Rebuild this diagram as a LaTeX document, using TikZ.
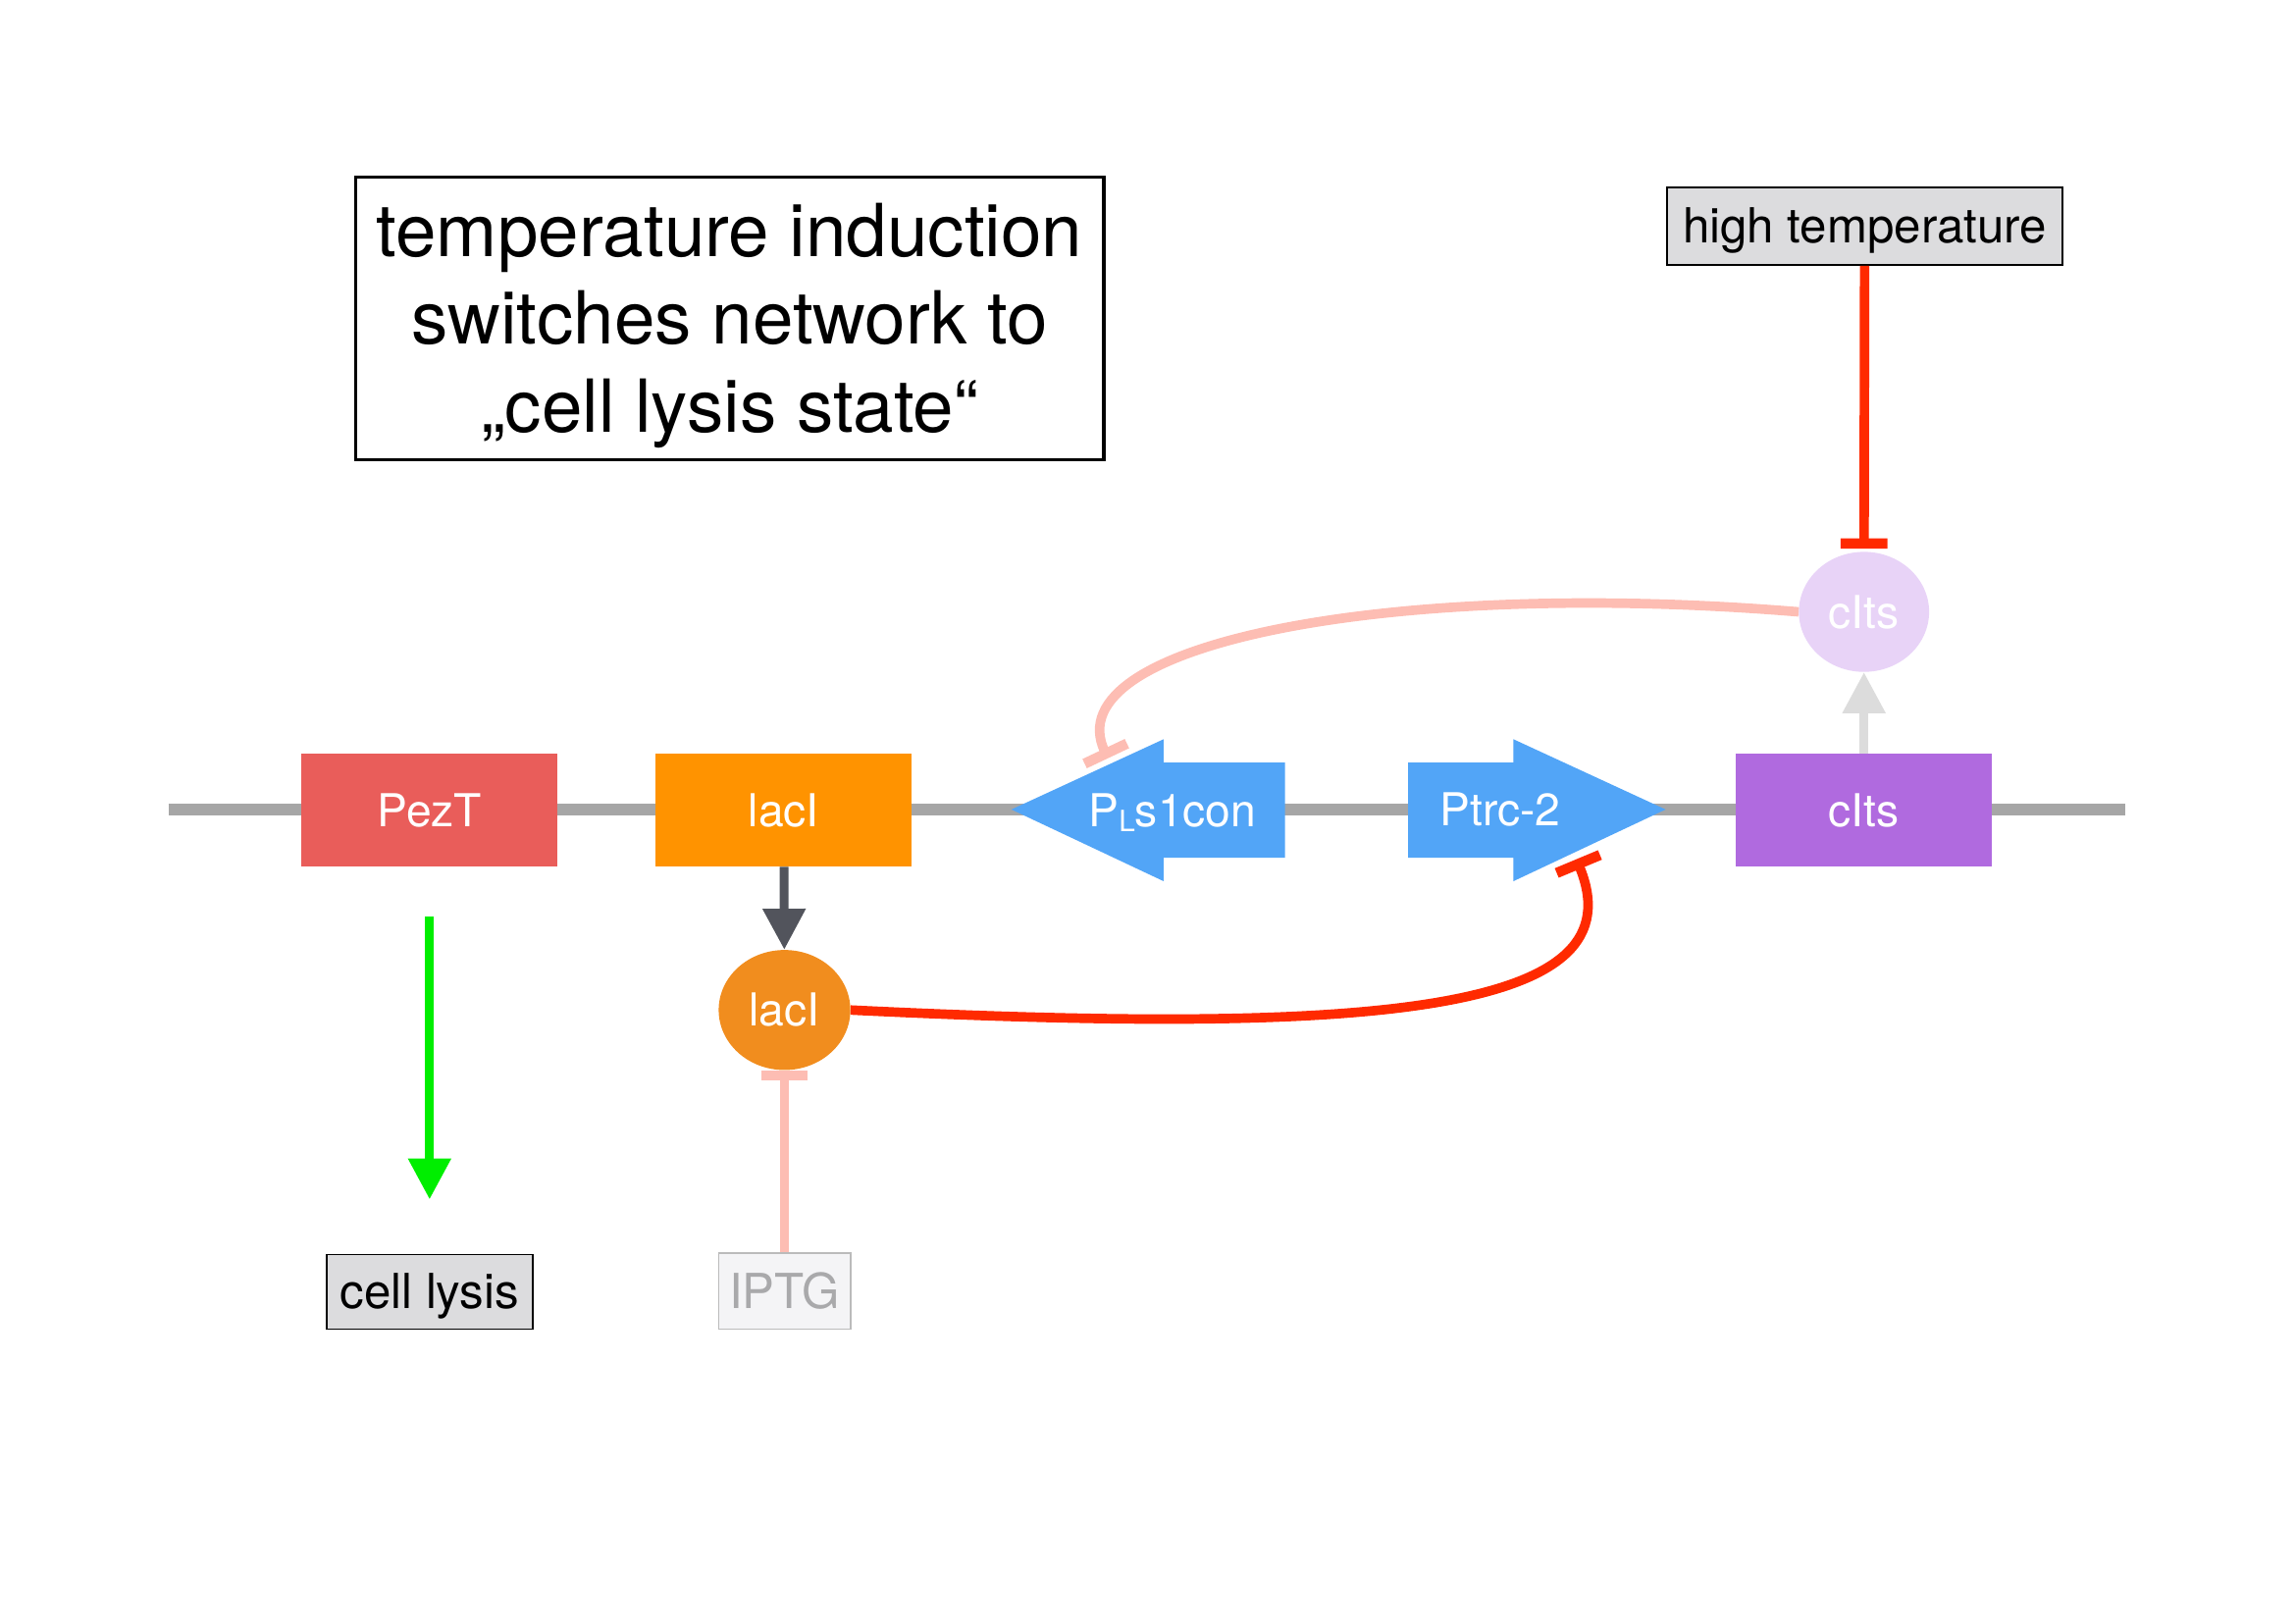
\documentclass[tikz,border=0pt]{standalone}
\usepackage{fontspec}
\setmainfont{TeX Gyre Heros}
\usepackage{xcolor}
\usepackage{tikz}
\usetikzlibrary{arrows.meta, shapes.geometric}
\definecolor{pezColor}{HTML}{E95D5A}
\definecolor{laciColor}{HTML}{FF9300}
\definecolor{promColor}{HTML}{52A5F7}
\definecolor{citsColor}{HTML}{B06ADF}
\definecolor{laciProtColor}{HTML}{F18D1E}
\definecolor{citsProtColor}{HTML}{E8D3F7}
\definecolor{dnaColor}{HTML}{A6A6A6}
\definecolor{repRed}{HTML}{FF2A00}
\definecolor{repPink}{HTML}{FDBDB3}
\definecolor{lysisGreen}{HTML}{00EE00}
\definecolor{arrowDark}{HTML}{52545C}
\definecolor{arrowLight}{HTML}{DCDCDC}
\definecolor{signalGray}{HTML}{DCDCDE}
\definecolor{iptgFill}{HTML}{F4F4F6}
\definecolor{iptgText}{HTML}{A9A9AB}
\definecolor{iptgDraw}{HTML}{BBBBBB}

\begin{document}
\begin{tikzpicture}[x=1pt, y=-1pt,
    gene/.style={minimum width=175pt, minimum height=77pt, inner sep=0pt, text=white, font=\fontsize{31}{31}\selectfont},
    protein/.style={ellipse, minimum width=90pt, minimum height=82pt, inner sep=0pt, text=white, font=\fontsize{31}{31}\selectfont},
    signal/.style={draw=black, line width=1.2pt, fill=signalGray, inner sep=0pt, text depth=1pt, font=\fontsize{33}{33}\selectfont},
    induce/.style={line width=6pt, -{Triangle[width=28pt,length=28pt]}},
    repress/.style={line width=6.5pt, -{Bar[width=32pt,line width=7pt]}}]
    \useasboundingbox (0,0) rectangle (1568,1109);

    % DNA backbone
    \draw[dnaColor, line width=8pt] (115,553) -- (1452,553);

    \node[draw=black, line width=2.5pt, minimum width=511pt, minimum height=193pt, align=center,
          font=\fontsize{50}{60}\selectfont] (title) at (498.5,217.5)
          {\rule{0pt}{46pt}temperature induction\\switches network to\\„cell lysis state“};

    \node[gene, fill=pezColor] (pezt) at (293.5,553.5) {PezT};
    \node[gene, fill=laciColor] (laci) at (535.5,553.5) {lacI};
    \node[gene, fill=citsColor] (cits) at (1273.5,553.5) {cIts};

    % promoters
    \fill[promColor] (691,553) -- (795,505) -- (795,521) -- (878,521) -- (878,586) -- (795,586) -- (795,602) -- cycle;
    \fill[promColor] (962,521) -- (1034,521) -- (1034,505) -- (1138,553) -- (1034,602) -- (1034,586) -- (962,586) -- cycle;
    \node[text=white, font=\fontsize{31}{31}\selectfont] (pls) at (801,555)
          {P\raisebox{-3pt}{\fontsize{20}{20}\selectfont L}s1con};
    \node[text=white, font=\fontsize{31}{31}\selectfont] (ptrc) at (1025,553) {Ptrc-2};
    \coordinate (plsbar) at (757,518);
    \coordinate (ptrcbar) at (1077,587);

    \node[protein, fill=laciProtColor] (lacip) at (536,690) {lacI};
    \node[protein, fill=citsProtColor, minimum width=89pt] (citsp) at (1273.5,418) {cIts};

    \node[signal, minimum width=270pt, minimum height=53pt] (heat) at (1274,154.5) {high temperature};
    \node[signal, minimum width=141pt, minimum height=51pt] (lysis) at (293.5,882.5) {cell lysis};
    \node[signal, draw=iptgDraw, fill=iptgFill, text=iptgText, minimum width=90pt, minimum height=52pt] (iptg) at (536,882) {IPTG};

    \draw[induce, lysisGreen, shorten <=34pt, shorten >=37pt] (pezt) -- (lysis);
    \draw[induce, arrowDark] (laci) -- (lacip);
    \draw[induce, arrowLight] (cits) -- (citsp);
    \draw[repress, repRed, shorten >=2pt] (heat) -- (citsp);
    \draw[repress, repPink] (iptg) -- (lacip);
    \draw[repress, repRed] (lacip.east) .. controls (950,708) and (1120,690) .. (ptrcbar);
    \draw[repress, repPink] (citsp.west) .. controls (950,395) and (720,440) .. (plsbar);
\end{tikzpicture}
\end{document}
